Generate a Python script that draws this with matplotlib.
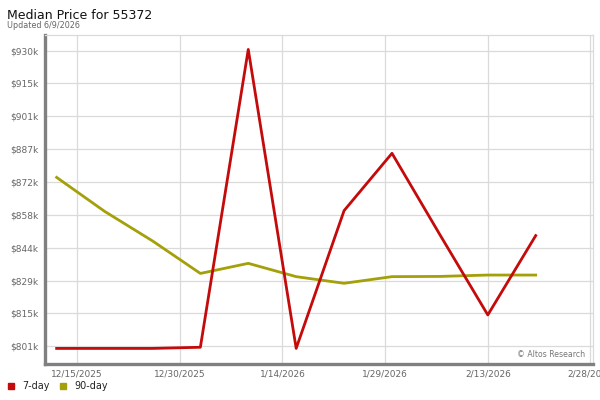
import numpy as np
import matplotlib
matplotlib.use("Agg")
import matplotlib.pyplot as plt
import matplotlib.dates as mdates
from matplotlib.lines import Line2D
from datetime import datetime

# weekly data points
dates = ["2025-12-12", "2025-12-19", "2025-12-26", "2026-01-02", "2026-01-09", "2026-01-16",
         "2026-01-23", "2026-01-30", "2026-02-06", "2026-02-13", "2026-02-20"]
price_7day = [800.1, 800.1, 800.1, 800.6, 930.5, 800.1, 860.2, 885.2, 849.7, 814.7, 849.3]
price_90day = [874.7, 859.9, 847.0, 832.8, 837.2, 831.4, 828.5, 831.4, 831.5, 832.1, 832.1]

y_tick_labels = ["$801k", "$815k", "$829k", "$844k", "$858k", "$872k", "$887k", "$901k", "$915k", "$930k"]
grid_dates = ["2025-12-15", "2025-12-30", "2026-01-14", "2026-01-29", "2026-02-13", "2026-02-28"]
x_tick_labels = ["12/15/2025", "12/30/2025", "1/14/2026", "1/29/2026", "2/13/2026", "2/28/2026"]

red = "#C40A0A"
olive = "#A3A00A"

x = [datetime.strptime(d, "%Y-%m-%d") for d in dates]
gx = [datetime.strptime(d, "%Y-%m-%d") for d in grid_dates]

fig = plt.figure(figsize=(6, 4), dpi=100)
ax = fig.add_axes([45 / 600, 36 / 400, 548 / 600, 329 / 400])

ax.plot(x, price_90day, color=olive, linewidth=2.0, zorder=3)
ax.plot(x, price_7day, color=red, linewidth=2.0, zorder=4)

# axis ranges
ax.set_xlim(mdates.date2num(gx[0]) - 4.7, mdates.date2num(gx[-1]) + 0.37)
ax.set_ylim(793.3, 936.8)

yt = np.linspace(801, 930, len(y_tick_labels))
ax.set_yticks(yt)
ax.set_yticklabels(y_tick_labels, fontsize=6.5, color="#666666")
ax.set_xticks(gx)
ax.set_xticklabels(x_tick_labels, fontsize=6.5, color="#666666")
ax.tick_params(axis="y", length=0, pad=5)
ax.tick_params(axis="x", length=0, pad=4.2)
ax.grid(True, color="#DADADA", linewidth=0.9)
ax.set_axisbelow(True)

for s in ["top", "right"]:
    ax.spines[s].set_color("#DADADA")
    ax.spines[s].set_linewidth(0.9)
for s in ["left", "bottom"]:
    ax.spines[s].set_color("#808080")
    ax.spines[s].set_linewidth(2.4)

ax.text(0.985, 0.03, "\u00a9 Altos Research", transform=ax.transAxes, ha="right",
        va="center", fontsize=5.6, color="#777777")

fig.text(7 / 600, 1 - 19 / 400, "Median Price for 55372", fontsize=9, color="#111111",
         va="baseline", ha="left")
fig.text(7 / 600, 1 - 28 / 400, "Updated 6/9/2026", fontsize=5.8, color="#666666",
         va="baseline", ha="left")

handles = [Line2D([], [], marker="s", linestyle="none", color=red, markersize=4.2),
           Line2D([], [], marker="s", linestyle="none", color=olive, markersize=4.2)]
fig.legend(handles, ["7-day", "90-day"], loc="center left", bbox_to_anchor=(0.0, 0.034),
           ncol=2, frameon=False, fontsize=6.9, handlelength=0.9, handletextpad=0.77,
           columnspacing=0.89, borderpad=0.2, borderaxespad=0.48, labelcolor="#222222")

fig.savefig("out.png", dpi=100)
